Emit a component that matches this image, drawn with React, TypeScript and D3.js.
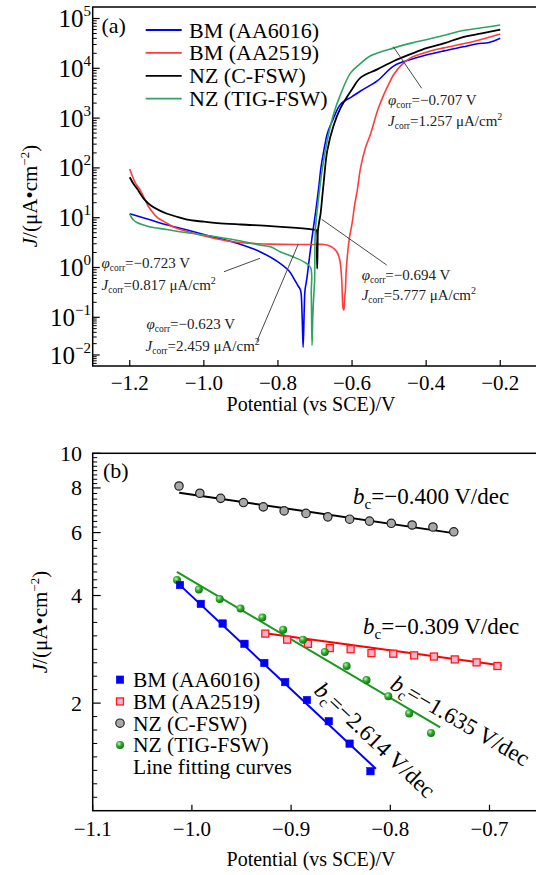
import React from 'react';
import * as d3 from 'd3';

// ---------- Panel (a): polarization curves [potential (V vs SCE), J (μA/cm²)]
const bm6016Curve: [number, number][] = [
  [-1.2, 12], [-1.15, 9.3], [-1.1, 7.2], [-1.05, 5.8], [-1.0, 4.6], [-0.95, 3.7], [-0.9, 2.9],
  [-0.85, 2.1], [-0.8, 1.3], [-0.77, 0.85], [-0.757, 0.6], [-0.745, 0.42], [-0.739, 0.35],
  [-0.735, 0.12], [-0.732, 0.016], [-0.729, 0.15], [-0.727, 0.35], [-0.722, 0.6], [-0.717, 1.2],
  [-0.708, 4.0], [-0.699, 12], [-0.69, 40], [-0.684, 100], [-0.675, 250], [-0.667, 480],
  [-0.65, 1000], [-0.631, 1900], [-0.6, 2700], [-0.577, 3500], [-0.532, 5600], [-0.487, 11200],
  [-0.442, 15000], [-0.4, 18500], [-0.352, 22400], [-0.3, 27000], [-0.262, 31000],
  [-0.23, 33000], [-0.2, 40000],
];
const bm2519Curve: [number, number][] = [
  [-1.2, 95], [-1.195, 75], [-1.185, 50], [-1.171, 35], [-1.16, 24], [-1.15, 17], [-1.135, 12],
  [-1.126, 10.2], [-1.1, 7.8], [-1.082, 6.5], [-1.05, 5.4], [-1.01, 4.5], [-0.96, 3.7],
  [-0.92, 3.3], [-0.87, 3.05], [-0.82, 2.95], [-0.75, 2.9], [-0.7, 2.9], [-0.676, 2.9],
  [-0.66, 2.7], [-0.649, 2.4], [-0.64, 2.0], [-0.633, 1.4], [-0.628, 0.6], [-0.624, 0.15],
  [-0.622, 0.14], [-0.62, 0.25], [-0.618, 0.35], [-0.616, 0.8], [-0.613, 1.6], [-0.607, 4.0],
  [-0.6, 7.6], [-0.593, 18], [-0.586, 35], [-0.577, 100], [-0.564, 250], [-0.55, 480],
  [-0.53, 1500], [-0.514, 3000], [-0.5, 5000], [-0.487, 7600], [-0.465, 12000],
  [-0.442, 16200], [-0.4, 21000], [-0.352, 25700], [-0.3, 31000], [-0.262, 36300], [-0.2, 49000],
];
const nzCfswCurve: [number, number][] = [
  [-1.2, 65], [-1.19, 48], [-1.18, 38], [-1.171, 30], [-1.16, 23], [-1.144, 17.8], [-1.12, 14],
  [-1.099, 12], [-1.07, 10.3], [-1.045, 9.1], [-1.0, 8.3], [-0.964, 7.8], [-0.9, 7.3],
  [-0.82, 6.8], [-0.76, 6.3], [-0.703, 5.75], [-0.696, 5.6], [-0.695, 2.0], [-0.694, 0.95],
  [-0.693, 2.5], [-0.692, 5.5], [-0.689, 8], [-0.685, 12], [-0.68, 28], [-0.676, 56],
  [-0.667, 220], [-0.65, 700], [-0.631, 1600], [-0.6, 3800], [-0.577, 6500], [-0.532, 9500],
  [-0.487, 14000], [-0.44, 19500], [-0.397, 25700], [-0.35, 32000], [-0.307, 41000],
  [-0.25, 50000], [-0.2, 60000],
];
const nzTigCurve: [number, number][] = [
  [-1.2, 12], [-1.195, 10], [-1.19, 9], [-1.182, 8.1], [-1.165, 7.2], [-1.144, 6.5],
  [-1.1, 5.8], [-1.054, 5.1], [-1.0, 4.5], [-0.964, 4.1], [-0.9, 3.4], [-0.847, 2.8],
  [-0.82, 2.6], [-0.793, 2.05], [-0.76, 1.65], [-0.73, 1.3], [-0.712, 1.0], [-0.71, 0.3],
  [-0.708, 0.018], [-0.706, 0.1], [-0.703, 0.3], [-0.701, 0.56], [-0.699, 5.6], [-0.69, 26],
  [-0.68, 100], [-0.667, 355], [-0.65, 1200], [-0.631, 3000], [-0.604, 8100], [-0.58, 12000],
  [-0.55, 17800], [-0.487, 25700], [-0.44, 32000], [-0.397, 38000], [-0.35, 46000],
  [-0.307, 56000], [-0.25, 65000], [-0.2, 74000],
];
const legendA = ['BM (AA6016)', 'BM (AA2519)', 'NZ (C-FSW)', 'NZ (TIG-FSW)'];
const colorsA = ['#0000ff', '#ff3c3c', '#000000', '#2fa360'];
const xTicksA = [-1.2, -1.0, -0.8, -0.6, -0.4, -0.2];
const yExpA = [-2, -1, 0, 1, 2, 3, 4, 5];

// ---------- Panel (b): Tafel region points [potential, J]
const bm6016Pts: [number, number][] = [
  [-1.012, 4.28], [-0.991, 3.79], [-0.969, 3.34], [-0.947, 2.93], [-0.927, 2.59], [-0.906, 2.29],
  [-0.884, 2.04], [-0.862, 1.78], [-0.841, 1.54], [-0.82, 1.29],
];
const bm2519Pts: [number, number][] = [
  [-0.926, 3.13], [-0.904, 3.01], [-0.883, 2.93], [-0.861, 2.85], [-0.84, 2.83], [-0.819, 2.76],
  [-0.797, 2.75], [-0.776, 2.72], [-0.756, 2.7], [-0.735, 2.65], [-0.713, 2.6], [-0.692, 2.54],
];
const nzCfswPts: [number, number][] = [
  [-1.013, 8.1], [-0.992, 7.73], [-0.971, 7.48], [-0.948, 7.28], [-0.928, 7.08], [-0.907, 6.9],
  [-0.885, 6.79], [-0.863, 6.64], [-0.841, 6.54], [-0.821, 6.46], [-0.799, 6.37], [-0.778, 6.3],
  [-0.757, 6.22], [-0.736, 6.03],
];
const nzTigPts: [number, number][] = [
  [-1.015, 4.42], [-0.993, 4.16], [-0.972, 3.91], [-0.951, 3.68], [-0.929, 3.47], [-0.908, 3.21],
  [-0.888, 3.01], [-0.866, 2.78], [-0.844, 2.54], [-0.824, 2.32], [-0.802, 2.09], [-0.781, 1.87],
  [-0.759, 1.65],
];
// fitted lines: [start potential, start J], [end potential, end J]
const fitBm6016: [number, number][] = [[-1.0145, 4.34], [-0.8145, 1.31]];
const fitBm2519: [number, number][] = [[-0.928, 3.14], [-0.6875, 2.55]];
const fitNzCfsw: [number, number][] = [[-1.0128, 7.76], [-0.7346, 5.97]];
const fitNzTig: [number, number][] = [[-1.0151, 4.66], [-0.7497, 1.71]];
const legendB = ['BM (AA6016)', 'BM (AA2519)', 'NZ (C-FSW)', 'NZ (TIG-FSW)', 'Line fitting curves'];
const xTicksB = [-1.1, -1.0, -0.9, -0.8, -0.7];
const yTicksB = [2, 4, 6, 8, 10];
const yMajorsB = [1, 2, 4, 6, 8, 10];

const FONT = "'Liberation Serif', 'Times New Roman', serif";
const fmt = (v: number) => (v < 0 ? '\u2212' : '') + Math.abs(v).toFixed(1);

export default function App() {
  // scales panel (a)
  const xA = d3.scaleLinear().domain([-1.3, -0.1]).range([92.7, 537.3]);
  const yA = d3.scaleLinear().domain([-2, -1, 5]).range([355, 317.3, 18.5]);
  const yAJ = (j: number) => yA(Math.log10(j));
  const lineA = d3.line<[number, number]>().x(d => xA(d[0])).y(d => yAJ(d[1])).curve(d3.curveCatmullRom.alpha(0.5));
  const curvesA = [bm6016Curve, bm2519Curve, nzCfswCurve, nzTigCurve];
  const topA = 7, botA = 366, leftA = 92.7, rightA = 541;

  const minorA: number[] = [];
  for (let e = -2; e < 5; e++) for (let k = 2; k <= 9; k++) minorA.push(Math.log10(k * Math.pow(10, e)));
  for (let k = 2; k <= 9; k++) minorA.push(Math.log10(k * 1e5));
  minorA.push(Math.log10(0.009), Math.log10(0.008), Math.log10(0.007), Math.log10(0.006), Math.log10(0.005));

  // scales panel (b)
  const xB = d3.scaleLinear().domain([-1.1, -0.65]).range([92.7, 539.1]);
  const yB = d3.scaleLog().domain([1, 10]).range([810.7, 453.3]);
  const topB = 453.3, botB = 810.7, leftB = 92.7, rightB = 541;
  const minorB: number[] = [];
  for (let i = 0; i < yMajorsB.length - 1; i++) {
    const a = yMajorsB[i], b = yMajorsB[i + 1];
    for (let k = 1; k < 8; k++) minorB.push(a * Math.pow(b / a, k / 8));
  }
  const lineB = d3.line<[number, number]>().x(d => xB(d[0])).y(d => yB(d[1]));

  const sq = (cx: number, cy: number, s: number, fill: string, stroke: string, sw: number, key: any) => (
    <rect key={key} x={cx - s / 2} y={cy - s / 2} width={s} height={s} fill={fill} stroke={stroke} strokeWidth={sw} />
  );
  const blueSq = (x: number, y: number, k: any) => sq(x, y, 7.5, '#0000ff', '#0000ff', 0.5, k);
  const redSq = (x: number, y: number, k: any) => sq(x, y, 7, '#f5b3cb', '#ff1a1a', 1.3, k);
  const grayC = (x: number, y: number, k: any) => <circle key={k} cx={x} cy={y} r={4.2} fill="#a8a8a8" stroke="#222" strokeWidth={1.2} />;
  const greenC = (x: number, y: number, k: any) => <circle key={k} cx={x} cy={y} r={4} fill="url(#gg)" />;

  const phiLabel = (x: number, y: number, val: string) => (
    <text x={x} y={y} fontSize={15} fill="#222">
      <tspan fontStyle="italic">φ</tspan>
      <tspan fontSize={9.5} dy={3}>corr</tspan>
      <tspan dy={-3}>={val}</tspan>
    </text>
  );
  const jLabel = (x: number, y: number, val: string) => (
    <text x={x} y={y} fontSize={15} fill="#222">
      <tspan fontStyle="italic">J</tspan>
      <tspan fontSize={9.5} dy={3}>corr</tspan>
      <tspan dy={-3}>={val} μA/cm</tspan>
      <tspan fontSize={10} dy={-6}>2</tspan>
    </text>
  );
  const bcLabel = (val: string) => (
    <>
      <tspan fontStyle="italic">b</tspan>
      <tspan fontSize={15} dy={5}>c</tspan>
      <tspan dy={-5}>={val} V/dec</tspan>
    </>
  );
  const yTitle = (
    <>
      <tspan fontStyle="italic">J</tspan>
      <tspan>/(μA•cm</tspan>
      <tspan fontSize={13} dy={-8}>−2</tspan>
      <tspan dy={8}>)</tspan>
    </>
  );

  return (
    <svg width={536} height={875} style={{ position: 'absolute', left: 0, top: 0, background: '#fff' }} fontFamily={FONT}>
      <defs>
        <radialGradient id="gg" cx="0.38" cy="0.35" r="0.7">
          <stop offset="0" stopColor="#c8f5b0" />
          <stop offset="0.45" stopColor="#2faa2f" />
          <stop offset="1" stopColor="#0b6e0b" />
        </radialGradient>
        <clipPath id="clipA"><rect x={leftA} y={topA} width={rightA - leftA} height={botA - topA} /></clipPath>
      </defs>
      <rect x={0} y={0} width={536} height={875} fill="#fff" />

      {/* ===== Panel (a) ===== */}
      <g clipPath="url(#clipA)">
        {curvesA.map((c, i) => (
          <path key={i} d={lineA(c) || ''} fill="none" stroke={colorsA[i]} strokeWidth={i === 2 ? 1.8 : 1.6} strokeLinejoin="round" />
        ))}
      </g>
      <rect x={leftA} y={topA} width={rightA - leftA} height={botA - topA} fill="none" stroke="#000" strokeWidth={1.5} />
      {yExpA.map(e => (
        <g key={e}>
          <line x1={leftA} x2={leftA + 7} y1={yA(e)} y2={yA(e)} stroke="#000" strokeWidth={1.2} />
          <text x={91} y={yA(e) + 8.5} fontSize={25} textAnchor="end">
            10<tspan fontSize={15} dy={-11}>{e < 0 ? '\u2212' + Math.abs(e) : e}</tspan>
          </text>
        </g>
      ))}
      {minorA.filter(m => yA(m) > topA + 1 && yA(m) < botA - 1).map((m, i) => (
        <line key={i} x1={leftA} x2={leftA + 4} y1={yA(m)} y2={yA(m)} stroke="#000" strokeWidth={1} />
      ))}
      {xTicksA.map(t => (
        <g key={t}>
          <line x1={xA(t)} x2={xA(t)} y1={botA} y2={botA - 6} stroke="#000" strokeWidth={1.2} />
          <text x={xA(t)} y={390} fontSize={21} textAnchor="middle">{fmt(t)}</text>
        </g>
      ))}
      <text x={311} y={411} fontSize={20} textAnchor="middle">Potential (vs SCE)/V</text>
      <text transform="translate(37,196) rotate(-90)" fontSize={21} textAnchor="middle">{yTitle}</text>
      <text x={101.5} y={32.5} fontSize={22}>(a)</text>
      {legendA.map((l, i) => (
        <g key={l}>
          <line x1={145.7} x2={181.7} y1={30 + i * 22.9} y2={30 + i * 22.9} stroke={colorsA[i]} strokeWidth={1.8} />
          <text x={189} y={30 + i * 22.9 + 7.5} fontSize={22}>{l}</text>
        </g>
      ))}
      {/* annotations */}
      <g stroke="#333" strokeWidth={0.9}>
        <line x1={393.3} y1={46.7} x2={421.7} y2={88.3} />
        <line x1={224} y1={271.7} x2={260} y2={258.3} />
        <line x1={256.7} y1={341.7} x2={298.3} y2={244} />
        <line x1={321.7} y1={219.3} x2={386.7} y2={265} />
      </g>
      {phiLabel(388, 105, '−0.707 V')}
      {jLabel(388, 125.5, '1.257')}
      {phiLabel(101.5, 267.7, '−0.723 V')}
      {jLabel(101.5, 290, '0.817')}
      {phiLabel(146.5, 329, '−0.623 V')}
      {jLabel(145.5, 350.7, '2.459')}
      {phiLabel(361.7, 280, '−0.694 V')}
      {jLabel(361.7, 300, '5.777')}

      {/* ===== Panel (b) ===== */}
      <rect x={leftB} y={topB} width={rightB - leftB} height={botB - topB} fill="none" stroke="#000" strokeWidth={1.5} />
      {yTicksB.map(t => (
        <g key={t}>
          <line x1={leftB} x2={leftB + 8} y1={yB(t)} y2={yB(t)} stroke="#000" strokeWidth={1.2} />
          <text x={82} y={yB(t) + 7.5} fontSize={22} textAnchor="end">{t}</text>
        </g>
      ))}
      {minorB.map((m, i) => (
        <line key={i} x1={leftB} x2={leftB + 4.5} y1={yB(m)} y2={yB(m)} stroke="#000" strokeWidth={1} />
      ))}
      {xTicksB.map(t => (
        <g key={t}>
          <line x1={xB(t)} x2={xB(t)} y1={botB} y2={botB - 6} stroke="#000" strokeWidth={1.2} />
          <text x={xB(t)} y={835.5} fontSize={21} textAnchor="middle">{fmt(t)}</text>
        </g>
      ))}
      <text x={311} y={866} fontSize={20} textAnchor="middle">Potential (vs SCE)/V</text>
      <text transform="translate(47,622) rotate(-90)" fontSize={21} textAnchor="middle">{yTitle}</text>
      <text x={103} y={477.5} fontSize={22}>(b)</text>

      <path d={lineB(fitNzCfsw) || ''} stroke="#000" strokeWidth={2} fill="none" />
      <path d={lineB(fitBm2519) || ''} stroke="#ff0000" strokeWidth={2} fill="none" />
      <path d={lineB(fitNzTig) || ''} stroke="#18981e" strokeWidth={2} fill="none" />
      <path d={lineB(fitBm6016) || ''} stroke="#0000ff" strokeWidth={2} fill="none" />
      {nzCfswPts.map((d, i) => grayC(xB(d[0]), yB(d[1]), 'c' + i))}
      {bm2519Pts.map((d, i) => redSq(xB(d[0]), yB(d[1]), 'r' + i))}
      {nzTigPts.map((d, i) => greenC(xB(d[0]), yB(d[1]), 'g' + i))}
      {bm6016Pts.map((d, i) => blueSq(xB(d[0]), yB(d[1]), 'b' + i))}

      {/* legend (b) */}
      {legendB.map((l, i) => {
        const y = 679.7 + i * 21.75;
        return (
          <g key={l}>
            {i === 0 && blueSq(120, y, 'lb')}
            {i === 1 && redSq(120, y, 'lr')}
            {i === 2 && grayC(120, y, 'lc')}
            {i === 3 && greenC(120, y, 'lg')}
            <text x={133} y={y + 7.5} fontSize={21.5}>{l}</text>
          </g>
        );
      })}

      <text x={353} y={504} fontSize={23}>{bcLabel('−0.400')}</text>
      <text x={363} y={634} fontSize={23}>{bcLabel('−0.309')}</text>
      <text transform="translate(389,688) rotate(30.3)" fontSize={23}>{bcLabel('−1.635')}</text>
      <text transform="translate(313,692) rotate(43.4)" fontSize={23}>{bcLabel('−2.614')}</text>
    </svg>
  );
}
